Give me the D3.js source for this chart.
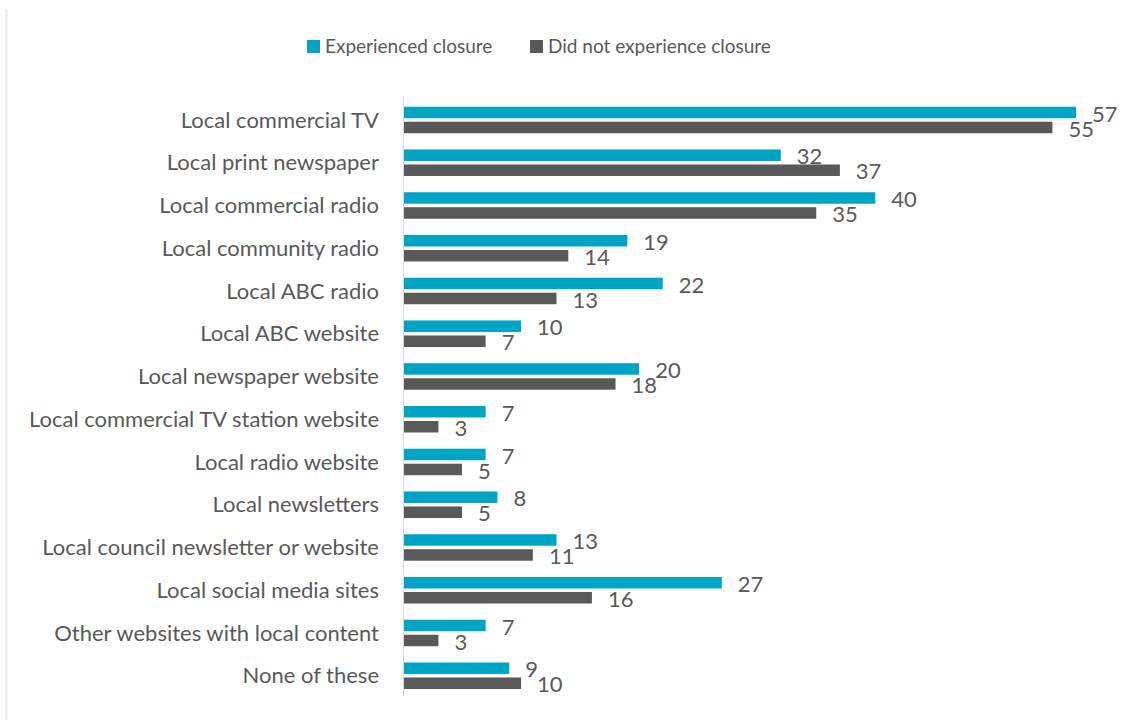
<!DOCTYPE html>
<html>
<head>
<meta charset="utf-8">
<script src="https://cdn.jsdelivr.net/npm/d3@7"></script>
<style>
  html, body { margin: 0; padding: 0; background: #fff; }
  svg { display: block; }
  text { font-family: Lato, "Open Sans", sans-serif; fill: #595959; }
</style>
</head>
<body>
<svg id="chart" width="1128" height="720"></svg>
<script>
// Sources of local news used, by whether the area experienced a closure (%)
const categories = [
  "Local commercial TV",
  "Local print newspaper",
  "Local commercial radio",
  "Local community radio",
  "Local ABC radio",
  "Local ABC website",
  "Local newspaper website",
  "Local commercial TV station website",
  "Local radio website",
  "Local newsletters",
  "Local council newsletter or website",
  "Local social media sites",
  "Other websites with local content",
  "None of these"
];
const experiencedClosure    = [57, 32, 40, 19, 22, 10, 20, 7, 7, 8, 13, 27, 7, 9];
const notExperiencedClosure = [55, 37, 35, 14, 13, 7, 18, 3, 5, 5, 11, 16, 3, 10];
const seriesNames = ["Experienced closure", "Did not experience closure"];
const seriesColors = ["#00a5c6", "#595959"];

const svg = d3.select("#chart");
const W = 1128, H = 720;

// faint frame edge on the left
svg.append("line")
  .attr("x1", 6.5).attr("x2", 6.5).attr("y1", 10).attr("y2", H)
  .attr("stroke", "#e6e6e6").attr("stroke-width", 2);

const x = d3.scaleLinear().domain([0, 57]).range([403, 1076]);
const y = d3.scaleBand().domain(categories).range([98.6, 697.1]);

const barH = 11.5, barGap = 3.5;
const groupH = barH * 2 + barGap;
const offsets = [(y.bandwidth() - groupH) / 2, (y.bandwidth() - groupH) / 2 + barH + barGap];

const series = [experiencedClosure, notExperiencedClosure];
const labelFs = 22;   // category and value labels
const legendFs = 19;

series.forEach((vals, s) => {
  const g = svg.append("g");
  g.selectAll("rect")
    .data(vals)
    .join("rect")
    .attr("x", x(0))
    .attr("y", (d, i) => y(categories[i]) + offsets[s])
    .attr("width", d => x(d) - x(0))
    .attr("height", barH)
    .attr("fill", seriesColors[s]);
  g.selectAll("text")
    .data(vals)
    .join("text")
    .attr("x", d => x(d) + 16)
    .attr("y", (d, i) => y(categories[i]) + offsets[s] + barH / 2 + 1.5)
    .attr("dy", "0.35em")
    .attr("font-size", labelFs)
    .text(d => d);
});

// vertical category axis line
svg.append("line")
  .attr("x1", x(0) + 0.5).attr("x2", x(0) + 0.5)
  .attr("y1", 97).attr("y2", 696)
  .attr("stroke", "#d9d9d9").attr("stroke-width", 1);

// category labels
svg.append("g").selectAll("text")
  .data(categories)
  .join("text")
  .attr("x", 379)
  .attr("y", d => y(d) + y.bandwidth() / 2)
  .attr("dy", "0.35em")
  .attr("text-anchor", "end")
  .attr("font-size", labelFs)
  .text(d => d);

// legend
const legendX = [307, 530];
const lg = svg.append("g");
seriesNames.forEach((name, s) => {
  lg.append("rect")
    .attr("x", legendX[s]).attr("y", 40)
    .attr("width", 13).attr("height", 13)
    .attr("fill", seriesColors[s]);
  lg.append("text")
    .attr("x", legendX[s] + 18).attr("y", 53)
    .attr("font-size", legendFs)
    .text(name);
});
</script>
</body>
</html>
